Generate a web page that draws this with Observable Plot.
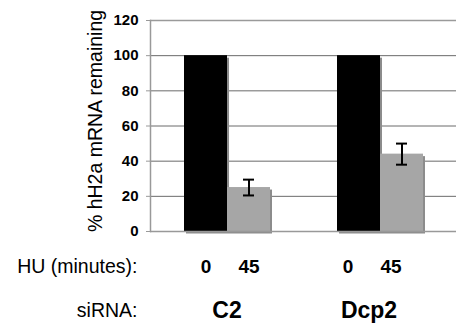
<!DOCTYPE html>
<html>
<head>
<meta charset="utf-8">
<script src="https://cdn.jsdelivr.net/npm/d3@7"></script>
<script src="https://cdn.jsdelivr.net/npm/@observablehq/plot@0.6"></script>
<style>
  html, body { margin: 0; padding: 0; background: #fff; }
  #wrap { position: relative; width: 456px; height: 325px; overflow: hidden; }
  #wrap > svg { display: block; max-width: none; }
</style>
</head>
<body>
<div id="wrap"></div>
<script>
const siRNA = ["C2", "C2", "Dcp2", "Dcp2"];
const hu = ["0", "45", "0", "45"];
const remaining = [100, 25, 100, 44];
const errHalf = [null, 4.5, null, 6];
const yTicks = [0, 20, 40, 60, 80, 100, 120];
const siRNAGroups = ["C2", "Dcp2"];
const huLevels = ["0", "45"];
const yTitle = ["% hH2a mRNA remaining"];
const huTitle = ["HU (minutes):"];
const siRNATitle = ["siRNA:"];

const rows = siRNA.map((s, i) => ({
  siRNA: s, hu: hu[i], value: remaining[i],
  lo: errHalf[i] == null ? null : remaining[i] - errHalf[i],
  hi: errHalf[i] == null ? null : remaining[i] + errHalf[i]
}));
const errRows = rows.filter(d => d.lo != null);

const chart = Plot.plot({
  width: 456,
  height: 325,
  marginLeft: 150,
  marginRight: 0,
  marginTop: 20,
  marginBottom: 94,
  style: { fontFamily: "'Liberation Sans', Arial, sans-serif", background: "white", maxWidth: "none" },
  fx: { domain: siRNAGroups, padding: 0, axis: null },
  x: { domain: huLevels, paddingInner: 0, paddingOuter: 0.76, axis: null },
  y: { domain: [0, 120], axis: null },
  marks: [
    Plot.ruleY(yTicks.filter(t => t > 0 && t < 120), { stroke: "#6a6a6a", strokeWidth: 1 }),
    Plot.ruleY([120], { stroke: "#9a9a9a", strokeWidth: 1.5 }),
    Plot.axisY(yTicks, { anchor: "left", tickSize: 4, tickPadding: 8, stroke: "#999", fill: "#000", fontSize: 15, fontWeight: "bold", label: null }),
    Plot.frame({ anchor: "left", facetAnchor: "left", stroke: "#999", strokeWidth: 1.5 }),
    Plot.barY(rows, { fx: "siRNA", x: "hu", y: "value", fill: "#8c8c8c", dx: 2, dy: 2.5 }),
    Plot.barY(rows, { fx: "siRNA", x: "hu", y: "value", fill: d => d.hu === "0" ? "#000" : "#a6a6a6" }),
    Plot.ruleY([0], { stroke: "#999", strokeWidth: 1.5 }),
    Plot.ruleX(errRows, { fx: "siRNA", x: "hu", y1: "lo", y2: "hi", stroke: "#000", strokeWidth: 2 }),
    Plot.tickY(errRows, { fx: "siRNA", x: "hu", y: "lo", stroke: "#000", strokeWidth: 2, insetLeft: 16, insetRight: 16 }),
    Plot.tickY(errRows, { fx: "siRNA", x: "hu", y: "hi", stroke: "#000", strokeWidth: 2, insetLeft: 16, insetRight: 16 }),
    Plot.text(yTitle, { text: d => d, frameAnchor: "left", facetAnchor: "left", rotate: -90, dx: -55, dy: -5, fontSize: 19.5, lineAnchor: "middle", textAnchor: "middle", fill: "#000" }),
    Plot.text(huTitle, { text: d => d, frameAnchor: "bottom-left", facetAnchor: "left", textAnchor: "end", dx: -13, dy: 35, fontSize: 19.5, lineAnchor: "middle", fill: "#000" }),
    Plot.text(siRNATitle, { text: d => d, frameAnchor: "bottom-left", facetAnchor: "left", textAnchor: "end", dx: -13, dy: 79, fontSize: 19.5, lineAnchor: "middle", fill: "#000" }),
    Plot.text(rows.filter(d => d.siRNA === "C2"), { fx: "siRNA", x: "hu", text: "hu", frameAnchor: "bottom", dy: 35, fontSize: 19, fontWeight: "bold", lineAnchor: "middle", fill: "#000" }),
    Plot.text(rows.filter(d => d.siRNA === "Dcp2"), { fx: "siRNA", x: "hu", text: "hu", frameAnchor: "bottom", dy: 35, dx: -11, fontSize: 19, fontWeight: "bold", lineAnchor: "middle", fill: "#000" }),
    Plot.text(siRNAGroups.filter(g => g === "C2"), { fx: d => d, text: d => d, frameAnchor: "bottom", dy: 79, fontSize: 23, fontWeight: "bold", lineAnchor: "middle", fill: "#000" }),
    Plot.text(siRNAGroups.filter(g => g === "Dcp2"), { fx: d => d, text: d => d, frameAnchor: "bottom", dy: 79, dx: -11, fontSize: 23, fontWeight: "bold", lineAnchor: "middle", fill: "#000" })
  ]
});
document.getElementById("wrap").append(chart);
</script>
</body>
</html>
